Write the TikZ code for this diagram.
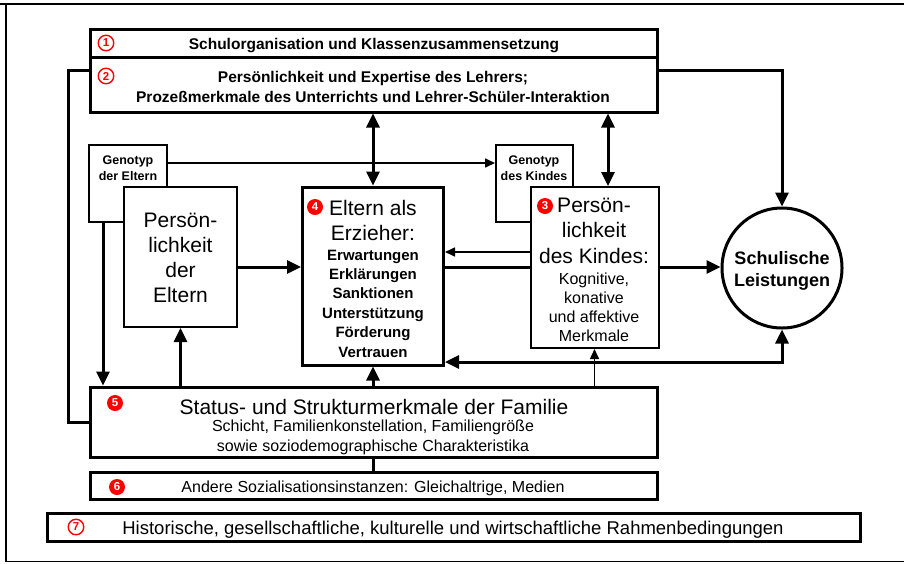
\documentclass[tikz,border=0pt]{standalone}
\usepackage{fontspec}
\setmainfont{Liberation Sans}
\usetikzlibrary{arrows.meta}
\definecolor{numred}{RGB}{255,0,0}

\tikzset{
  box/.style={draw, line width=3pt, fill=white, inner sep=0pt, rectangle},
  thinbox/.style={draw, line width=2pt, fill=white, inner sep=0pt, rectangle},
  txt/.style={inner sep=0pt, align=center},
  heavy/.style={line width=3pt},
  thickarr/.style={line width=3pt, -{Triangle[length=14pt,width=13pt]}},
  thickboth/.style={line width=3pt, {Triangle[length=14pt,width=13pt]}-{Triangle[length=14pt,width=13pt]}},
  thinarr/.style={line width=1.6pt, -{Triangle[length=10pt,width=9pt]}},
  numo/.style={circle, draw=numred, line width=1.4pt, text=numred, inner sep=0pt,
    minimum size=15.5pt, font=\bfseries\fontsize{11.5}{11.5}\selectfont},
  numf/.style={circle, fill=numred, text=white, inner sep=0pt,
    minimum size=16pt, font=\bfseries\fontsize{11.5}{11.5}\selectfont},
}

\begin{document}
\begin{tikzpicture}[x=1pt, y=-1pt]
\useasboundingbox (0,0) rectangle (904,563);

% outer frame
\draw[line width=2.4pt] (0,4) -- (904,4);
\draw[line width=1.4pt] (6,3) -- (6,561.5);
\draw[line width=1.2pt] (5.5,561.5) -- (904,561.5);

% helper rows and columns
\coordinate (toprow) at (0,70);
\coordinate (leftx) at (68,0);
\coordinate (gyrow) at (0,163);
\coordinate (thinrow) at (0,252);
\coordinate (midrow) at (0,267);
\coordinate (botrow) at (0,362);
\coordinate (gex) at (103,0);
\coordinate (kx) at (608,0);

% boxes
\node[box, minimum width=567pt, minimum height=28pt] (b1) at (373.5,43) {};
\node[box, minimum width=567pt, minimum height=55pt] (b2) at (373.5,84.5) {};
\node[thinbox, minimum width=78pt, minimum height=77pt] (ge) at (128,183.5) {};
\node[thinbox, minimum width=77pt, minimum height=77pt] (gk) at (534.5,183.5) {};
\node[thinbox, minimum width=113pt, minimum height=140pt] (pe) at (180.5,257) {};
\node[thinbox, minimum width=128pt, minimum height=161pt] (b3) at (594.5,267.5) {};
\node[box, minimum width=141pt, minimum height=178pt] (b4) at (373,276) {};
\node[draw, circle, line width=3pt, fill=white, minimum size=120pt, inner sep=0pt] (circ) at (782,268) {};
\node[box, minimum width=567pt, minimum height=70pt] (b5) at (373.5,422) {};
\node[box, minimum width=567pt, minimum height=27pt] (b6) at (373.5,485.5) {};
\node[box, minimum width=813pt, minimum height=28pt] (b7) at (453.5,527.5) {};

% texts
\node[txt, font=\bfseries\fontsize{15.5}{19}\selectfont] (t1) at (374,45.5)
  {Schulorganisation und Klassenzusammensetzung};
\node[txt, font=\bfseries\fontsize{15.5}{20}\selectfont] (t2) at (373,86.5)
  {Persönlichkeit und Expertise des Lehrers;\\Prozeßmerkmale des Unterrichts und Lehrer-Schüler-Interaktion};
\node[txt, font=\bfseries\fontsize{12.5}{16}\selectfont] (tge) at (128,168.5) {Genotyp\\der Eltern};
\node[txt, font=\bfseries\fontsize{12.5}{16}\selectfont] (tgk) at (534,168.5) {Genotyp\\des Kindes};
\node[txt, font=\fontsize{21}{25}\selectfont] (tpe) at (180.5,258) {Persön-\\lichkeit\\der\\Eltern};
\node[txt, font=\fontsize{21}{25}\selectfont] (tb4a) at (373,220.5) {Eltern als\\Erzieher:};
\node[txt, font=\bfseries\fontsize{15}{19.4}\selectfont] (tb4b) at (373,303.5)
  {Erwartungen\\Erklärungen\\Sanktionen\\Unterstützung\\Förderung\\Vertrauen};
\node[txt, font=\fontsize{21}{25.5}\selectfont] (tb3a) at (594,230.5) {Persön-\\lichkeit\\des Kindes:};
\node[txt, font=\fontsize{16}{19}\selectfont] (tb3b) at (594,307.5) {Kognitive,\\konative\\und affektive\\Merkmale};
\node[txt, font=\bfseries\fontsize{18}{22}\selectfont] (tc) at (782,270.5) {Schulische\\Leistungen};
\node[txt, font=\fontsize{21}{25}\selectfont] (tb5a) at (374,406.5) {Status- und Strukturmerkmale der Familie};
\node[txt, font=\fontsize{16}{19.5}\selectfont] (tb5b) at (373,437.5)
  {Schicht, Familienkonstellation, Familiengröße\\sowie soziodemographische Charakteristika};
\node[txt, font=\fontsize{16}{19}\selectfont] (tb6) at (373,488.5) {Andere Sozialisationsinstanzen: Gleichaltrige, Medien};
\node[txt, font=\fontsize{18.5}{22}\selectfont] (tb7) at (453,529.5)
  {Historische, gesellschaftliche, kulturelle und wirtschaftliche Rahmenbedingungen};

% numbers
\node[numo] (n1) at (106,43) {1};
\node[numo] (n2) at (106,76) {2};
\node[numf] (n3) at (545,206) {3};
\node[numf] (n4) at (315,207) {4};
\node[numf] (n5) at (115,403) {5};
\node[numf] (n6) at (117,487) {6};
\node[numo] (n7) at (76,527) {7};

% connectors
\draw[heavy] (b2.west |- toprow) -- (leftx |- toprow) -- (leftx |- b5.west) -- (b5.west);
\draw[thickarr] (b2.east |- toprow) -- (circ.north |- toprow) -- (circ.north);
\draw[thickboth] (b2.south -| b4.north) -- (b4.north);
\draw[thickboth] (b2.south -| kx) -- (b3.north -| kx);
\draw[thinarr] (ge.east |- gyrow) -- (gk.west |- gyrow);
\draw[thickarr] (ge.south -| gex) -- (b5.north -| gex);
\draw[thickarr] (b5.north -| pe.south) -- (pe.south);
\draw[thickarr] (pe.east |- midrow) -- (b4.west |- midrow);
\draw[thinarr] (b3.west |- thinrow) -- (b4.east |- thinrow);
\draw[heavy] (b4.east |- midrow) -- (b3.west |- midrow);
\draw[thickarr] (b3.east |- midrow) -- (circ.west |- midrow);
\draw[thickboth] (circ.south) -- (circ.south |- botrow) -- (b4.east |- botrow);
\draw[thickarr] (b5.north -| b4.south) -- (b4.south);
\draw[thinarr] (b5.north -| b3.south) -- (b3.south);
\draw[heavy] (b5.south -| b4.south) -- (b6.north -| b4.south);
\end{tikzpicture}
\end{document}
